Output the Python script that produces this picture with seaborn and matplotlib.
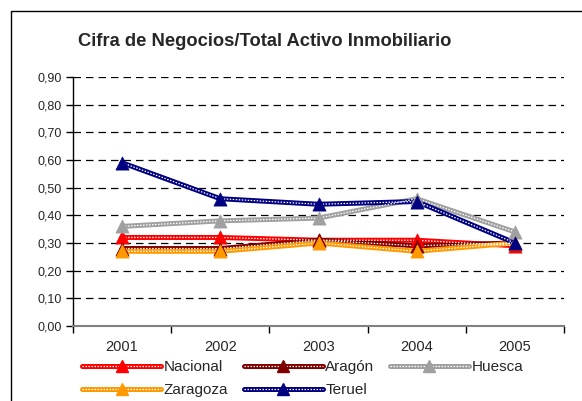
import matplotlib
matplotlib.use("Agg")
import matplotlib.pyplot as plt
import matplotlib.patches as mpatches
from matplotlib.lines import Line2D
import seaborn as sns
import pandas as pd

years = ["2001", "2002", "2003", "2004", "2005"]
series_names = ["Nacional", "Aragón", "Huesca", "Zaragoza", "Teruel"]
nacional = [0.32, 0.32, 0.31, 0.31, 0.29]
aragon = [0.28, 0.28, 0.31, 0.29, 0.30]
huesca = [0.36, 0.38, 0.39, 0.46, 0.34]
zaragoza = [0.27, 0.27, 0.30, 0.27, 0.30]
teruel = [0.59, 0.46, 0.44, 0.45, 0.30]
colors = ["#FF0000", "#800000", "#A0A0A0", "#FF9900", "#000080"]
ytick_values = [0.0, 0.1, 0.2, 0.3, 0.4, 0.5, 0.6, 0.7, 0.8, 0.9]
ytick_labels = ["0,00", "0,10", "0,20", "0,30", "0,40", "0,50", "0,60", "0,70", "0,80", "0,90"]
title = "Cifra de Negocios/Total Activo Inmobiliario"

values = [nacional, aragon, huesca, zaragoza, teruel]
rows = []
for name, vals in zip(series_names, values):
    for i, (y, v) in enumerate(zip(years, vals)):
        rows.append({"pos": i, "year": y, "serie": name, "valor": v})
df = pd.DataFrame(rows)
palette = dict(zip(series_names, colors))

sns.set_theme(style="white")
plt.rcParams["font.family"] = ["Liberation Sans", "DejaVu Sans"]

fig = plt.figure(figsize=(5.82, 4.01), dpi=100)
ax = fig.add_axes([73 / 582, 1 - 326 / 401, (564 - 73) / 582, (326 - 77) / 401])

for name in series_names:
    sub = df[df["serie"] == name]
    sns.lineplot(data=sub, x="pos", y="valor", color=palette[name], lw=3.6,
                 ax=ax, legend=False, zorder=3)
    sns.lineplot(data=sub, x="pos", y="valor", color="white", lw=0.9,
                 dashes=False, ax=ax, legend=False, zorder=3.1,
                 linestyle=(0, (1.2, 1.2)))
    sns.scatterplot(data=sub, x="pos", y="valor", color=palette[name], marker="^",
                    s=90, edgecolor=palette[name], linewidth=0.5, ax=ax,
                    legend=False, zorder=4)

ax.set_xlim(-0.5, 4.5)
ax.set_ylim(0, 0.9)
ax.set_xticks(range(len(years)))
ax.set_xticklabels(years, fontsize=10.5)
ax.set_xticks([-0.5, 0.5, 1.5, 2.5, 3.5, 4.5], minor=True)
ax.tick_params(axis="x", which="major", length=0, pad=10)
ax.tick_params(axis="x", which="minor", length=5, width=1, color="black",
               direction="out", bottom=True)
ax.set_yticks(ytick_values)
ax.set_yticklabels(ytick_labels, fontsize=9)
ax.tick_params(axis="y", length=5, width=1, color="black", direction="out",
               left=True, pad=3)
ax.set_xlabel("")
ax.set_ylabel("")

for v in ytick_values[1:]:
    ax.axhline(v, color="black", lw=0.9, linestyle=(0, (6, 4)), zorder=1)

for s in ["top", "right"]:
    ax.spines[s].set_visible(False)
ax.spines["left"].set_color("black")
ax.spines["left"].set_linewidth(1)
ax.spines["bottom"].set_color("#808080")
ax.spines["bottom"].set_linewidth(1.5)

handle_map = {}
for name in series_names:
    c = palette[name]
    h1 = Line2D([], [], color=c, lw=3.6)
    h2 = Line2D([], [], color="white", lw=0.9, linestyle=(0, (1.2, 1.2)))
    h3 = Line2D([], [], color=c, marker="^", markersize=9, linestyle="none")
    handle_map[name] = (h1, h2, h3)

# matplotlib fills legend columns first; reorder so rows read like the reference
legend_order = ["Nacional", "Zaragoza", "Aragón", "Teruel", "Huesca"]
leg = fig.legend([handle_map[n] for n in legend_order], legend_order,
                 loc="upper left", bbox_to_anchor=(82 / 582, 1 - 360 / 401),
                 ncol=3, frameon=False, fontsize=11, handlelength=5.2,
                 handletextpad=0.15, columnspacing=1.0, labelspacing=0.6,
                 borderaxespad=0, borderpad=0)

fig.text(265 / 582, 1 - 42 / 401, title, ha="center", va="center",
         fontsize=13.2, fontweight="bold")

top = 1 - 10.5 / 401
border = mpatches.Rectangle((11 / 582, -0.2), 2.0, top + 0.2,
                            transform=fig.transFigure, fill=False,
                            edgecolor="black", lw=1, zorder=10)
fig.patches.append(border)

fig.savefig("out.png", dpi=100, facecolor="white")
